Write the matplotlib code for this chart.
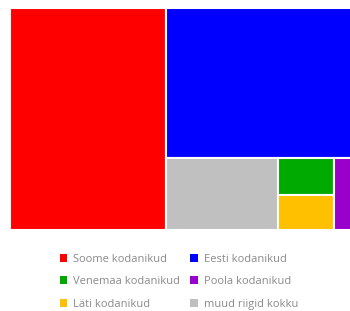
import matplotlib

matplotlib.use("Agg")

import matplotlib.pyplot as plt
from matplotlib.patches import Rectangle, Patch

labels = ["Soome kodanikud", "Eesti kodanikud", "muud riigid kokku",
          "Venemaa kodanikud", "Läti kodanikud", "Poola kodanikud"]
values = [34632, 28350, 8064, 2072, 1960, 1512]
colors = ["#ff0000", "#0000ff", "#c0c0c0", "#00aa00", "#ffc000", "#9900cc"]

legend_order = ["Soome kodanikud", "Venemaa kodanikud", "Läti kodanikud",
                "Eesti kodanikud", "Poola kodanikud", "muud riigid kokku"]


def worst(row, side):
    s = sum(row)
    return max(max(side * side * r / (s * s), (s * s) / (side * side * r)) for r in row)


def squarify(sizes, x, y, w, h):
    rects = []
    sizes = list(sizes)
    while sizes:
        side = min(w, h)
        row = [sizes[0]]
        i = 1
        while i < len(sizes) and worst(row + [sizes[i]], side) <= worst(row, side):
            row.append(sizes[i])
            i += 1
        sizes = sizes[i:]
        s = sum(row)
        if w >= h:
            cw = s / h
            yy = y
            for r in row:
                rects.append((x, yy, cw, r / cw))
                yy += r / cw
            x += cw
            w -= cw
        else:
            rh = s / w
            xx = x
            for r in row:
                rects.append((xx, y, r / rh, rh))
                xx += r / rh
            y += rh
            h -= rh
    return rects


W, H = 345, 222
total = sum(values)
scaled = [v * W * H / total for v in values]

fig = plt.figure(figsize=(3.5, 3.11), dpi=100)
ax = fig.add_axes([10 / 350, 81 / 311, W / 350, H / 311])
ax.set_xlim(0, W)
ax.set_ylim(H, 0)
ax.axis("off")

for (x, y, w, h), c in zip(squarify(scaled, 0, 0, W, H), colors):
    ax.add_patch(Rectangle((x, y), w, h, facecolor=c, edgecolor="white", linewidth=1.5))

color_of = dict(zip(labels, colors))
handles = [Patch(facecolor=color_of[l], edgecolor="none", label=l) for l in legend_order]
fig.legend(handles=handles, ncol=2, loc="upper left", bbox_to_anchor=(54 / 350, 1 - 248 / 311),
           frameon=False, labelcolor="#8a8a8a", handlelength=0.7, handleheight=0.7,
           handletextpad=0.55, columnspacing=0.9, labelspacing=1.05, borderpad=0,
           prop={"family": "Open Sans", "size": 8})

fig.savefig("out.png", dpi=100)
